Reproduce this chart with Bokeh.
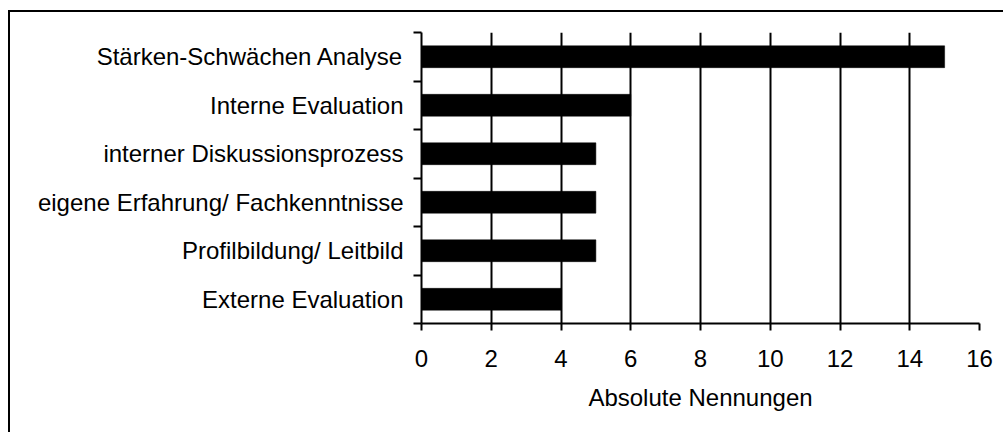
from bokeh.plotting import figure
from bokeh.models import Range1d, FixedTicker, InlineStyleSheet
from bokeh.embed import file_html
from bokeh.resources import INLINE

# Nennungen je Instrument (von oben nach unten)
categories = [
    "Stärken-Schwächen Analyse",
    "Interne Evaluation",
    "interner Diskussionsprozess",
    "eigene Erfahrung/ Fachkenntnisse",
    "Profilbildung/ Leitbild",
    "Externe Evaluation",
]
counts = [15, 6, 5, 5, 5, 4]
x_ticks = [0, 2, 4, 6, 8, 10, 12, 14, 16]
x_title = "Absolute Nennungen"

FONT = "Liberation Sans"
FSIZE = "24px"

n = len(categories)
# band centres, first category on top
y_pos = [n - i - 0.5 for i in range(n)]

# thin outer frame around the whole chart (left and top edges visible)
frame_css = InlineStyleSheet(css="""
:host { overflow: hidden; }
:host::before {
  content: "";
  position: absolute;
  left: 8px; top: 10px;
  width: 3000px; height: 3000px;
  border-left: 2px solid #000;
  border-top: 2px solid #000;
  pointer-events: none;
  z-index: 5;
}
""")

p = figure(
    width=1003, height=432,
    x_range=Range1d(0, 16), y_range=Range1d(0, n),
    output_backend="svg", toolbar_location=None,
    min_border_left=421, min_border_right=24,
    min_border_top=32, min_border_bottom=109,
    stylesheets=[frame_css],
)
p.outline_line_color = None
p.background_fill_color = "white"
p.border_fill_color = "white"

p.hbar(y=y_pos, left=0, right=counts, height=0.45,
       fill_color="black", line_color="black", line_width=0.5)

# x axis
xa = p.xaxis[0]
xa.ticker = FixedTicker(ticks=x_ticks)
xa.axis_line_width = 2
xa.axis_line_color = "black"
xa.major_tick_line_width = 2
xa.major_tick_line_color = "black"
xa.major_tick_out = 7
xa.major_tick_in = 0
xa.minor_tick_out = 0
xa.minor_tick_in = 0
xa.major_label_text_font = FONT
xa.major_label_text_font_size = FSIZE
xa.major_label_text_color = "black"
xa.major_label_standoff = 19
xa.axis_label = x_title
xa.axis_label_text_font = FONT
xa.axis_label_text_font_size = FSIZE
xa.axis_label_text_font_style = "normal"
xa.axis_label_text_color = "black"
xa.axis_label_standoff = 14

# y axis: labels at band centres, tick marks at band boundaries
ya = p.yaxis[0]
ya.ticker = FixedTicker(ticks=y_pos, minor_ticks=list(range(n + 1)))
ya.major_label_overrides = {y: c for y, c in zip(y_pos, categories)}
ya.axis_line_width = 2
ya.axis_line_color = "black"
ya.major_tick_out = 0
ya.major_tick_in = 0
ya.minor_tick_out = 8
ya.minor_tick_in = 0
ya.minor_tick_line_width = 2
ya.minor_tick_line_color = "black"
ya.major_label_text_font = FONT
ya.major_label_text_font_size = FSIZE
ya.major_label_text_color = "black"
ya.major_label_standoff = 10

# vertical grid lines
p.ygrid.visible = False
p.xgrid.grid_line_color = "black"
p.xgrid.grid_line_width = 2
p.xgrid.grid_line_alpha = 1.0

open("out.html", "w").write(file_html(p, INLINE))
